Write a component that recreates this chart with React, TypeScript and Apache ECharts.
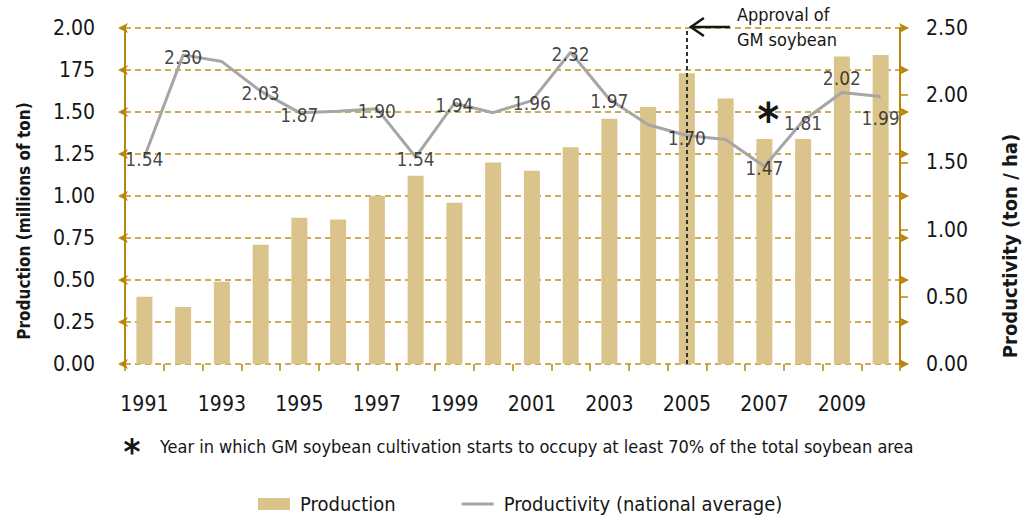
import React, { useEffect, useRef } from "react";
import * as echarts from "echarts";

const years = ["1991","1992","1993","1994","1995","1996","1997","1998","1999","2000","2001","2002","2003","2004","2005","2006","2007","2008","2009","2010"];
const production = [0.40,0.34,0.49,0.71,0.87,0.86,1.00,1.12,0.96,1.20,1.15,1.29,1.46,1.53,1.73,1.58,1.34,1.34,1.83,1.84];
const productivity = [1.54,2.30,2.25,2.03,1.87,1.88,1.90,1.54,1.94,1.87,1.96,2.32,1.97,1.78,1.70,1.67,1.47,1.81,2.02,1.99];
const labeledYears = ["1991","1992","1994","1995","1997","1998","1999","2001","2002","2003","2005","2007","2008","2009","2010"];
const productionTicks = [0,0.25,0.5,0.75,1,1.25,1.5,1.75,2];
const productionTickLabels = ["0.00","0.25","0.50","0.75","1.00","1.25","1.50","175","2.00"];
const approvalYear = "2005";
const gmMajorityYear = "2007";
const footnote = "Year in which GM soybean cultivation starts to occupy at least 70% of the total soybean area";
const approvalText = "Approval of\nGM soybean";

const FONT = "'DejaVu Sans Condensed', 'Liberation Sans Narrow', sans-serif";
const GOLD = "#B8860B";
const GRID_GOLD = "#C0901C";
const BAR = "#DBC48C";
const LINE = "#A6A6A6";
const INK = "#161616";

const labelOffsets: Record<string, number[]> = { "2009": [0, -15], "2010": [0, 21] };

export default function App() {
  const ref = useRef<HTMLDivElement>(null);
  useEffect(() => {
    if (!ref.current) return;
    const chart = echarts.init(ref.current, undefined, { renderer: "svg" });
    const option: any = {
      animation: false,
      textStyle: { fontFamily: FONT },
      grid: { left: 125, right: 124, top: 28, bottom: 151 },
      legend: {
        top: 489,
        left: 253,
        itemWidth: 32,
        itemHeight: 12,
        itemGap: 66,
        textStyle: { fontFamily: FONT, fontSize: 20, color: INK, padding: [0, 0, 0, 5] },
        data: [
          { name: "Production", icon: "rect" },
          { name: "Productivity (national average)", icon: "path://M0,0 L32,0 L32,3 L0,3 Z" },
        ],
      },
      xAxis: {
        type: "category",
        data: years,
        axisLine: { show: false },
        axisTick: { show: true, interval: 0, length: 7, lineStyle: { color: GOLD, width: 1.5 } },
        axisLabel: { interval: 1, margin: 29, fontSize: 21, color: INK, fontFamily: FONT },
        splitLine: { show: false },
      },
      yAxis: [
        {
          type: "value",
          min: 0,
          max: 2,
          interval: 0.25,
          name: "Production (millions of ton)",
          nameLocation: "middle",
          nameGap: 93,
          nameTextStyle: { fontFamily: FONT, fontSize: 17, fontWeight: "bold", color: INK, padding: [0, 50, 0, 0] },
          axisLine: { show: true, lineStyle: { color: GOLD, width: 2 } },
          axisTick: { show: false },
          axisLabel: {
            margin: 30,
            fontSize: 21,
            color: INK,
            fontFamily: FONT,
            formatter: (v: number) => {
              const i = productionTicks.findIndex((t) => Math.abs(t - v) < 1e-6);
              return i >= 0 ? productionTickLabels[i] : "";
            },
          },
          splitLine: { show: true, lineStyle: { color: GRID_GOLD, type: [6, 4], width: 1.5 } },
        },
        {
          type: "value",
          min: 0,
          max: 2.5,
          interval: 0.5,
          position: "right",
          name: "Productivity (ton / ha)",
          nameLocation: "middle",
          nameGap: 100,
          nameTextStyle: { fontFamily: FONT, fontSize: 20, fontWeight: "bold", color: INK, padding: [0, 100, 0, 0] },
          axisLine: { show: true, lineStyle: { color: GOLD, width: 2 } },
          axisTick: { show: true, inside: false, length: 8, lineStyle: { color: GOLD, width: 1.5 } },
          axisLabel: { margin: 26, fontSize: 21, color: INK, fontFamily: FONT, formatter: (v: number) => v.toFixed(2) },
          splitLine: { show: false },
        },
      ],
      series: [
        {
          name: "Production",
          type: "bar",
          data: production,
          barWidth: 16,
          itemStyle: { color: BAR },
          z: 2,
          markLine: {
            silent: true,
            symbol: ["none", "none"],
            label: { show: false },
            lineStyle: { color: "#333333", type: [4, 3], width: 2 },
            data: [{ xAxis: approvalYear }],
          },
          markPoint: {
            silent: true,
            symbol: "circle",
            symbolSize: 1,
            itemStyle: { color: "rgba(0,0,0,0)" },
            label: {
              show: true,
              position: "inside",
              formatter: "*",
              fontSize: 46,
              fontWeight: "bold",
              color: INK,
              fontFamily: FONT,
              offset: [4, 8],
            },
            data: [{ coord: [gmMajorityYear, 1.5] }],
          },
        },
        {
          name: "Productivity (national average)",
          type: "line",
          yAxisIndex: 1,
          symbol: "none",
          lineStyle: { color: LINE, width: 3 },
          itemStyle: { color: LINE },
          z: 4,
          data: productivity,
        },
        {
          name: "productivity-labels",
          type: "scatter",
          yAxisIndex: 1,
          silent: true,
          symbol: "circle",
          symbolSize: 1,
          itemStyle: { color: "rgba(0,0,0,0)" },
          z: 5,
          label: {
            show: true,
            position: "inside",
            fontSize: 19,
            color: INK,
            fontFamily: FONT,
            formatter: (p: any) => Number(p.value).toFixed(2),
          },
          data: productivity.map((v, i) =>
            labeledYears.includes(years[i])
              ? { value: v, label: { offset: labelOffsets[years[i]] || [0, 2] } }
              : { value: "-" }
          ),
        },
        {
          type: "custom",
          silent: true,
          clip: false,
          z: 5,
          xAxisIndex: 0,
          yAxisIndex: 0,
          data: productionTicks.map((t) => [0, t]),
          renderItem: (params: any, api: any) => {
            const cs = params.coordSys;
            const y = api.coord([0, api.value(1)])[1];
            const xl = cs.x;
            const xr = cs.x + cs.width;
            return {
              type: "group",
              children: [
                {
                  type: "polygon",
                  shape: { points: [[xl - 7, y], [xl + 3, y - 5], [xl + 0.5, y], [xl + 3, y + 5]] },
                  style: { fill: GOLD },
                },
                {
                  type: "polygon",
                  shape: { points: [[xr + 9, y], [xr - 1, y - 5], [xr + 1.5, y], [xr - 1, y + 5]] },
                  style: { fill: GOLD },
                },
              ],
            };
          },
        },
      ],
    };
    chart.setOption(option);

    const p = chart.convertToPixel({ xAxisIndex: 0, yAxisIndex: 0 }, [approvalYear, 2.0]) as number[];
    chart.setOption({
      graphic: [
        {
          type: "line",
          silent: true,
          shape: { x1: p[0] + 4, y1: p[1] - 1, x2: p[0] + 43, y2: p[1] - 1 },
          style: { stroke: INK, lineWidth: 2.5 },
        },
        {
          type: "polyline",
          silent: true,
          shape: { points: [[p[0] + 17, p[1] - 10], [p[0] + 4, p[1] - 1], [p[0] + 17, p[1] + 8]] },
          style: { stroke: INK, lineWidth: 2.5, fill: "none" },
        },
        {
          type: "text",
          silent: true,
          x: p[0] + 50,
          y: p[1] - 26,
          style: {
            text: approvalText,
            fontFamily: FONT,
            fontSize: 18,
            lineHeight: 25,
            fill: INK,
            align: "left",
            verticalAlign: "top",
          },
        },
        {
          type: "text",
          silent: true,
          x: 132,
          y: 451,
          style: { text: "*", fontFamily: FONT, fontSize: 36, fontWeight: "bold", fill: INK, align: "center", verticalAlign: "middle" },
        },
        {
          type: "text",
          silent: true,
          x: 160,
          y: 446,
          style: { text: footnote, fontFamily: FONT, fontSize: 18, fill: INK, align: "left", verticalAlign: "middle" },
        },
      ],
    });

    return () => chart.dispose();
  }, []);

  return <div ref={ref} style={{ position: "absolute", left: 0, top: 0, width: 1028, height: 515 }} />;
}
